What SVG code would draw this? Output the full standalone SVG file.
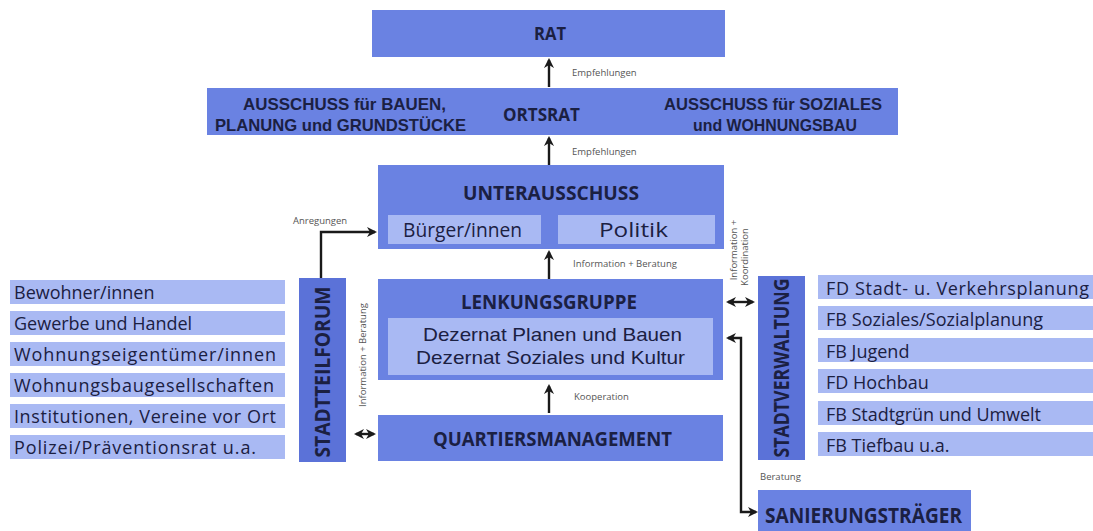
<svg xmlns="http://www.w3.org/2000/svg" width="1093" height="531" viewBox="0 0 1093 531">
<style>
.dk{fill:#6a82e2}
.dv{fill:#5b72d8}
.lt{fill:#a9b9f3}
.t{font-family:"Open Sans","Liberation Sans",sans-serif;fill:#1b2042}
.t2{font-family:"Liberation Sans",Arial,sans-serif;fill:#1b2042}
.b{font-weight:bold}
.sm{font-family:"Open Sans","Liberation Sans",sans-serif;font-size:9.5px;fill:#555}
.ln{fill:none;stroke:#1a1a1a;stroke-width:2.4}
</style>
<defs>
<marker id="ah" viewBox="0 0 10 10" refX="8" refY="5" markerWidth="4.2" markerHeight="4.2" orient="auto-start-reverse" markerUnits="strokeWidth">
<path d="M0,0 L10,5 L0,10 L3,5 Z" fill="#1a1a1a"/>
</marker>
</defs>
<rect width="1093" height="531" fill="#fff"/>

<g id="rat">
<rect class="dk" x="372" y="10" width="353" height="47"/>
<text class="t b" x="550" y="40" font-size="17" text-anchor="middle" textLength="32" lengthAdjust="spacingAndGlyphs">RAT</text>
</g>

<g id="ortsrat">
<rect class="dk" x="207" y="88" width="691" height="47"/>
<text class="t2 b" x="243" y="110" font-size="17" textLength="203" lengthAdjust="spacingAndGlyphs">AUSSCHUSS für BAUEN,</text>
<text class="t2 b" x="215" y="131" font-size="17" textLength="251" lengthAdjust="spacingAndGlyphs">PLANUNG und GRUNDSTÜCKE</text>
<text class="t b" x="503" y="121" font-size="17.5" textLength="77" lengthAdjust="spacingAndGlyphs">ORTSRAT</text>
<text class="t2 b" x="664" y="110" font-size="17" textLength="218" lengthAdjust="spacingAndGlyphs">AUSSCHUSS für SOZIALES</text>
<text class="t2 b" x="693" y="131" font-size="17" textLength="164" lengthAdjust="spacingAndGlyphs">und WOHNUNGSBAU</text>
</g>

<g id="unterausschuss">
<rect class="dk" x="378" y="165" width="346" height="84"/>
<text class="t b" x="463" y="200" font-size="20" textLength="176" lengthAdjust="spacingAndGlyphs">UNTERAUSSCHUSS</text>
<rect class="lt" x="388" y="215" width="153" height="29"/>
<text class="t" x="403" y="237" font-size="20" textLength="119" lengthAdjust="spacingAndGlyphs">Bürger/innen</text>
<rect class="lt" x="558" y="215" width="157" height="29"/>
<text class="t" x="599" y="237" font-size="20" textLength="69" lengthAdjust="spacingAndGlyphs">Politik</text>
</g>

<g id="lenkungsgruppe">
<rect class="dk" x="378" y="279" width="345" height="101"/>
<text class="t b" x="461" y="309" font-size="20" textLength="176" lengthAdjust="spacingAndGlyphs">LENKUNGSGRUPPE</text>
<rect class="lt" x="388" y="318" width="325" height="57"/>
<text class="t2" x="423" y="341" font-size="19" textLength="259" lengthAdjust="spacingAndGlyphs">Dezernat Planen und Bauen</text>
<text class="t2" x="416" y="364" font-size="19" textLength="269" lengthAdjust="spacingAndGlyphs">Dezernat Soziales und Kultur</text>
</g>

<g id="quartiersmanagement">
<rect class="dk" x="378" y="415" width="345" height="46"/>
<text class="t b" x="433" y="446" font-size="20" textLength="239" lengthAdjust="spacingAndGlyphs">QUARTIERSMANAGEMENT</text>
</g>

<g id="stadtteilforum">
<rect class="dv" x="299" y="278" width="47" height="184"/>
<text class="t b" transform="translate(330,372) rotate(-90)" font-size="22" text-anchor="middle" textLength="171" lengthAdjust="spacingAndGlyphs">STADTTEILFORUM</text>
</g>

<g id="buerger-liste">
<rect class="lt" x="10" y="280" width="275" height="24"/>
<text class="t" x="14" y="299" font-size="18">Bewohner/innen</text>
<rect class="lt" x="10" y="311" width="275" height="24"/>
<text class="t" x="14" y="330" font-size="18">Gewerbe und Handel</text>
<rect class="lt" x="10" y="342" width="275" height="24"/>
<text class="t" x="14" y="361" font-size="18" textLength="262">Wohnungseigentümer/innen</text>
<rect class="lt" x="10" y="373" width="275" height="24"/>
<text class="t" x="14" y="392" font-size="18" textLength="260">Wohnungsbaugesellschaften</text>
<rect class="lt" x="10" y="404" width="275" height="24"/>
<text class="t" x="14" y="423" font-size="18" textLength="262">Institutionen, Vereine vor Ort</text>
<rect class="lt" x="10" y="435" width="275" height="24"/>
<text class="t" x="14" y="454" font-size="18" textLength="242">Polizei/Präventionsrat u.a.</text>
</g>

<g id="stadtverwaltung">
<rect class="dv" x="758" y="276" width="47" height="184"/>
<text class="t b" transform="translate(789,368) rotate(-90)" font-size="22" text-anchor="middle" textLength="179" lengthAdjust="spacingAndGlyphs">STADTVERWALTUNG</text>
</g>

<g id="verwaltung-liste">
<rect class="lt" x="818" y="275" width="275" height="24"/>
<text class="t" x="826" y="295" font-size="18" textLength="263">FD Stadt- u. Verkehrsplanung</text>
<rect class="lt" x="818" y="306" width="275" height="24"/>
<text class="t" x="826" y="326" font-size="18" textLength="217">FB Soziales/Sozialplanung</text>
<rect class="lt" x="818" y="338" width="275" height="24"/>
<text class="t" x="826" y="358" font-size="18">FB Jugend</text>
<rect class="lt" x="818" y="369" width="275" height="24"/>
<text class="t" x="826" y="389" font-size="18">FD Hochbau</text>
<rect class="lt" x="818" y="401" width="275" height="24"/>
<text class="t" x="826" y="421" font-size="18" textLength="215">FB Stadtgrün und Umwelt</text>
<rect class="lt" x="818" y="432" width="275" height="24"/>
<text class="t" x="826" y="452" font-size="18">FB Tiefbau u.a.</text>
</g>

<g id="sanierungstraeger">
<rect class="dk" x="758" y="490" width="213" height="41"/>
<text class="t b" x="765" y="523" font-size="21" textLength="197" lengthAdjust="spacingAndGlyphs">SANIERUNGSTRÄGER</text>
</g>

<g id="connectors">
<line class="ln" x1="549" y1="87" x2="549" y2="60" marker-end="url(#ah)"/>
<line class="ln" x1="549" y1="165" x2="549" y2="138" marker-end="url(#ah)"/>
<line class="ln" x1="549" y1="279" x2="549" y2="252" marker-end="url(#ah)"/>
<line class="ln" x1="549" y1="413" x2="549" y2="386" marker-end="url(#ah)"/>
<polyline class="ln" points="321,278 321,232 375,232" marker-end="url(#ah)"/>
<line class="ln" x1="356" y1="434" x2="374" y2="434" marker-start="url(#ah)" marker-end="url(#ah)"/>
<line class="ln" x1="728" y1="302" x2="753" y2="302" marker-start="url(#ah)" marker-end="url(#ah)"/>
<polyline class="ln" points="728,338 741,338 741,512 756,512" marker-start="url(#ah)" marker-end="url(#ah)"/>
</g>

<g id="labels">
<text class="sm" x="572" y="76">Empfehlungen</text>
<text class="sm" x="572" y="155">Empfehlungen</text>
<text class="sm" x="573" y="267">Information + Beratung</text>
<text class="sm" x="574" y="400">Kooperation</text>
<text class="sm" x="293" y="224">Anregungen</text>
<text class="sm" transform="translate(366,355) rotate(-90)" text-anchor="middle">Information + Beratung</text>
<text class="sm" transform="translate(737,250) rotate(-90)" text-anchor="middle">Information +</text>
<text class="sm" transform="translate(748,257) rotate(-90)" text-anchor="middle">Koordination</text>
<text class="sm" x="760" y="480">Beratung</text>
</g>
</svg>
